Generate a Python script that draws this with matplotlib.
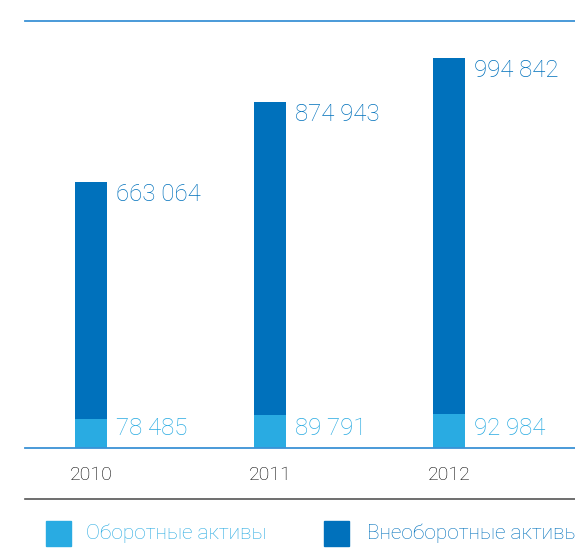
import matplotlib.pyplot as plt
import numpy as np

years = ['2010', '2011', '2012']
current_assets = [78485, 89791, 92984]        # Оборотные активы
noncurrent_assets = [663064, 874943, 994842]  # Внеоборотные активы

LIGHT = '#29abe2'
DARK = '#0071bc'
LINE = '#3a92d6'
FONT = ['Roboto', 'DejaVu Sans']


def fmt(v):
    return f'{v:,}'.replace(',', ' ')


fig = plt.figure(figsize=(5.75, 5.53), dpi=100)
# axes from x=25px to right edge, baseline at 447.5px, top line at 21px
ax = fig.add_axes([25 / 575, 1 - 447.5 / 553, 550 / 575, (447.5 - 21) / 553])

x = np.arange(len(years))
w = 0.179
ax.bar(x, current_assets, width=w, color=LIGHT, linewidth=0)
ax.bar(x, noncurrent_assets, width=w, bottom=current_assets, color=DARK, linewidth=0)

ax.set_xlim(-0.369, 2.704)
ax.set_ylim(0, 1190000)

for i in range(len(years)):
    top = current_assets[i] + noncurrent_assets[i]
    ax.annotate(fmt(noncurrent_assets[i]), xy=(x[i] + w / 2, top),
                xytext=(6.5, -9.5), textcoords='offset points',
                ha='left', va='center', fontsize=17.3, color=DARK,
                family=FONT, fontweight='light')
    ax.annotate(fmt(current_assets[i]), xy=(x[i] + w / 2, 0),
                xytext=(6.5, 14), textcoords='offset points',
                ha='left', va='center', fontsize=17.3, color=LIGHT,
                family=FONT, fontweight='light')
    ax.annotate(years[i], xy=(x[i], 0), xytext=(0, -19.5),
                textcoords='offset points', ha='center', va='center',
                fontsize=14, color='#000000', family=FONT, fontweight='light')

for side in ['left', 'right']:
    ax.spines[side].set_visible(False)
ax.spines['top'].set_color(LINE)
ax.spines['top'].set_linewidth(1.3)
ax.spines['bottom'].set_color(LINE)
ax.spines['bottom'].set_linewidth(1.3)
ax.set_xticks([])
ax.set_yticks([])

# gray separator line below year labels
fig.add_artist(plt.Line2D([25 / 575, 1], [1 - 499 / 553] * 2,
                          color='#555555', linewidth=1.2))

# legend: label, colour, square left px, text left px
legend_items = [('Оборотные активы', LIGHT, 46, 86),
                ('Внеоборотные активы', DARK, 324, 367)]
for label, col, sq, tx in legend_items:
    fig.add_artist(plt.Rectangle((sq / 575, 1 - 546 / 553), 25 / 575, 25 / 553,
                                 color=col, transform=fig.transFigure))
    fig.text(tx / 575, 1 - 533 / 553, label, ha='left', va='center',
             fontsize=15, color=col, family=FONT, fontweight='light')

fig.savefig('out.png', dpi=100)
